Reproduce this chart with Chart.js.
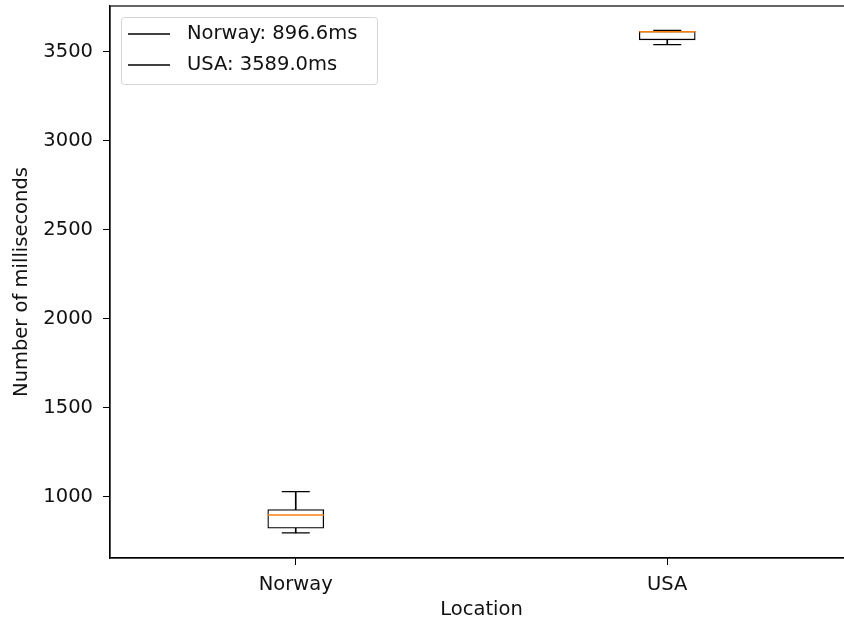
<!DOCTYPE html>
<html>
<head>
<meta charset="utf-8">
<script src="https://cdn.jsdelivr.net/npm/chart.js@4.4.0/dist/chart.umd.min.js"></script>
<style>
  html, body { margin: 0; padding: 0; background: #fff; overflow: hidden; }
  #wrap { width: 860px; height: 622px; }
</style>
</head>
<body>
<div id="wrap"><canvas id="boxChart"></canvas></div>
<script>
const locations = ["Norway", "USA"];
const mins    = [796, 3539];
const q1s     = [822, 3566];
const medians = [897, 3612];
const q3s     = [927, 3614];
const maxs    = [1028, 3618];
const means   = [896.6, 3589.0];
const yTicks  = [1000, 1500, 2000, 2500, 3000, 3500];

const legendLabels = locations.map((loc, i) => `${loc}: ${means[i].toFixed(1)}ms`);
const FONT = "'DejaVu Sans', sans-serif";
const FSIZE = 19.5;

// frame round the plot (matplotlib spines) and the legend in the corner
const framePlugin = {
  id: "frame",
  afterDraw(chart) {
    const { ctx, chartArea: a } = chart;
    ctx.save();
    ctx.strokeStyle = "#000";
    ctx.lineWidth = 1.2;
    ctx.strokeRect(a.left, a.top, a.right - a.left, a.bottom - a.top);

    // legend
    const lx = a.left + 11, ly = a.top + 11, lw = 256, lh = 67;
    ctx.fillStyle = "rgba(255,255,255,0.8)";
    ctx.strokeStyle = "#d6d6d6";
    ctx.lineWidth = 1;
    ctx.beginPath();
    ctx.roundRect(lx + 0.5, ly + 0.5, lw, lh, 3);
    ctx.fill();
    ctx.stroke();
    ctx.font = FSIZE + "px " + FONT;
    ctx.textBaseline = "middle";
    ctx.fillStyle = "#111";
    legendLabels.forEach((lbl, i) => {
      const y = ly + 17 + i * 31;
      ctx.strokeStyle = "#000";
      ctx.lineWidth = 1.4;
      ctx.beginPath();
      ctx.moveTo(lx + 7, y);
      ctx.lineTo(lx + 49, y);
      ctx.stroke();
      ctx.fillText(lbl, lx + 66, y);
    });
    ctx.restore();
  }
};

new Chart(document.getElementById("boxChart"), {
  type: "bar",
  data: {
    labels: locations,
    datasets: [
      {
        // whisker
        data: locations.map((_, i) => [mins[i], maxs[i]]),
        backgroundColor: "#000",
        barThickness: 1,
        grouped: false,
        order: 5
      },
      {
        // box
        data: locations.map((_, i) => [q1s[i], q3s[i]]),
        backgroundColor: "#fff",
        borderColor: "#000",
        borderWidth: 1.3,
        borderSkipped: false,
        barThickness: 56,
        grouped: false,
        order: 4
      },
      {
        type: "line",
        data: mins,
        showLine: false,
        pointStyle: "line",
        pointRadius: 14,
        pointBorderColor: "#000",
        pointBorderWidth: 1.4,
        order: 3
      },
      {
        type: "line",
        data: maxs,
        showLine: false,
        pointStyle: "line",
        pointRadius: 14,
        pointBorderColor: "#000",
        pointBorderWidth: 1.4,
        order: 2
      },
      {
        type: "line",
        data: medians,
        showLine: false,
        pointStyle: "line",
        pointRadius: 28,
        pointBorderColor: "#ff7f0e",
        pointBorderWidth: 1.5,
        order: 1
      }
    ]
  },
  options: {
    responsive: true,
    maintainAspectRatio: false,
    animation: false,
    layout: { autoPadding: false, padding: { left: 0, top: 6, right: 7, bottom: 0 } },
    plugins: {
      legend: { display: false },
      tooltip: { enabled: false }
    },
    scales: {
      x: {
        offset: true,
        afterFit(scale) {
          scale.height = 64;
          scale.paddingLeft = 0;
          scale.paddingRight = 0;
        },
        grid: { offset: false, drawOnChartArea: false, drawTicks: true, tickLength: 7, color: "#000" },
        border: { display: true, color: "#000", width: 1.2 },
        ticks: { color: "#111", padding: 8, font: { family: FONT, size: FSIZE } },
        title: {
          display: true, text: "Location", color: "#111",
          font: { family: FONT, size: FSIZE }, padding: { top: 0, bottom: 0 }
        }
      },
      y: {
        min: 655,
        max: 3756,
        afterFit(scale) {
          scale.width = 110;
          scale.paddingTop = 0;
          scale.paddingBottom = 0;
        },
        afterBuildTicks(scale) { scale.ticks = yTicks.map(v => ({ value: v })); },
        grid: { drawOnChartArea: false, drawTicks: true, tickLength: 7, color: "#000" },
        border: { display: true, color: "#000", width: 1.2 },
        ticks: { color: "#111", padding: 10, font: { family: FONT, size: FSIZE }, callback: v => String(v) },
        title: {
          display: true, text: "Number of milliseconds", color: "#111",
          font: { family: FONT, size: FSIZE }, padding: { top: 10, bottom: 0 }
        }
      }
    }
  },
  plugins: [framePlugin]
});
</script>
</body>
</html>
